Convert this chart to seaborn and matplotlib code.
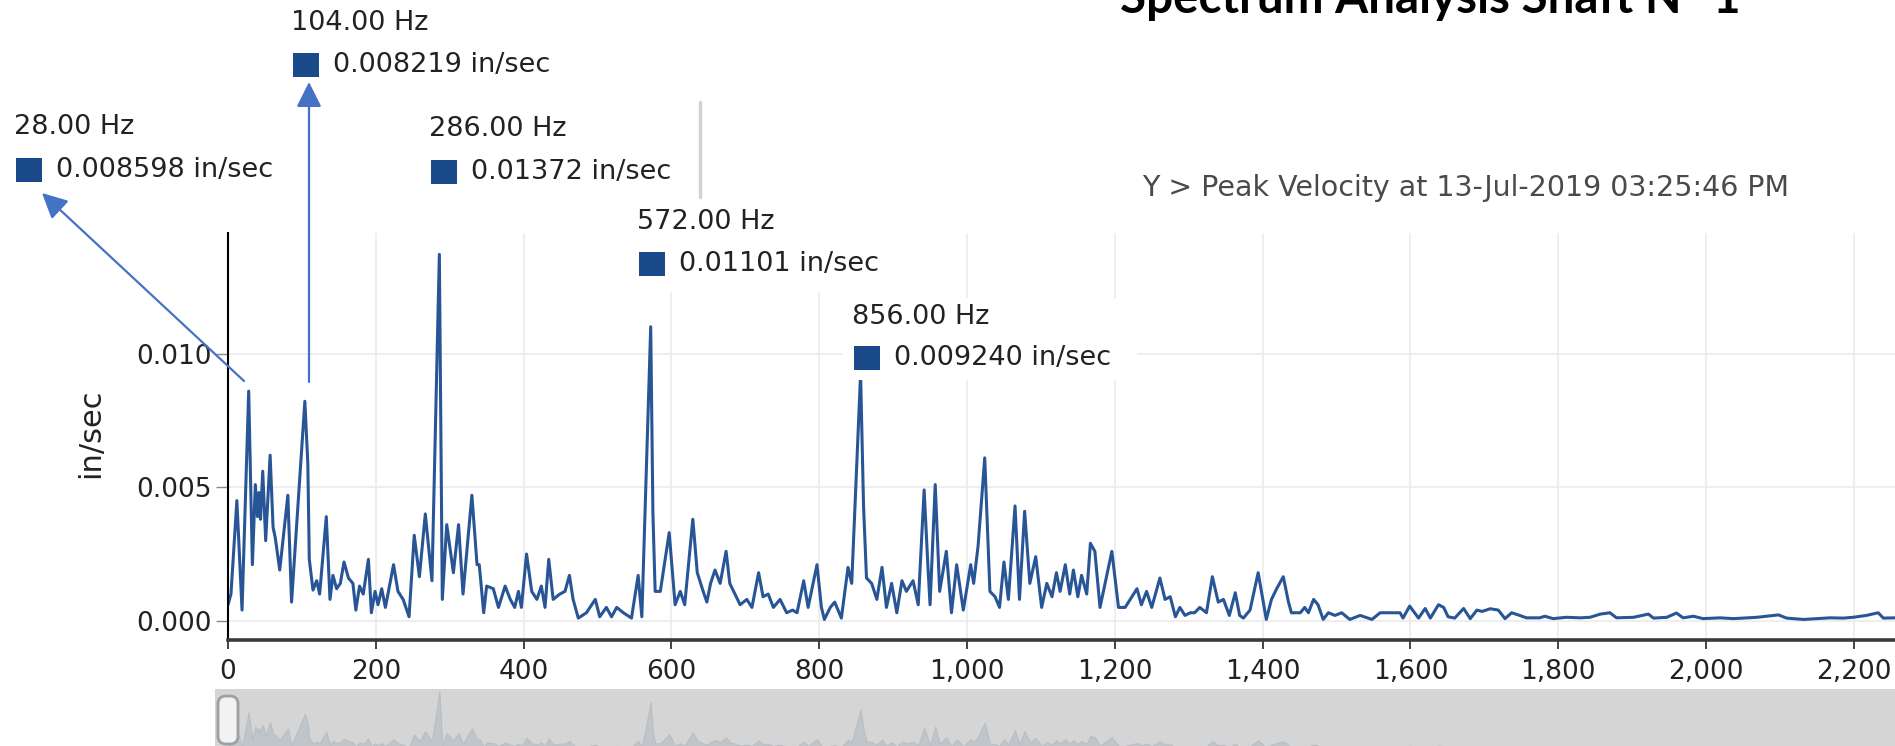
import matplotlib
matplotlib.use("Agg")
import numpy as np
import pandas as pd
import matplotlib.pyplot as plt
import seaborn as sns
from matplotlib.patches import Rectangle, FancyBboxPatch, FancyArrowPatch
from matplotlib.lines import Line2D
from matplotlib.transforms import IdentityTransform

# ---------------- data ----------------
freq_hz = [0, 4, 12, 19, 28, 33, 37, 40, 42, 44, 47, 51, 57, 61, 64, 70, 81, 86,
           104, 108, 110, 115, 120, 124, 133, 138, 142, 147, 152, 157, 163, 169, 173, 178, 183, 190, 194, 199,
           203, 208, 213, 224, 230, 237, 245, 252, 259, 267, 276, 286, 290, 296, 305, 312, 318, 330, 337, 340,
           346, 350, 359, 366, 375, 382, 388, 393, 397, 404, 411, 418, 424, 429, 434, 440, 449, 456, 462, 467,
           474, 485, 497, 503, 512, 519, 526, 535, 546, 555, 560, 572, 575, 578, 585, 597, 605, 612, 618, 629,
           635, 643, 648, 653, 659, 666, 674, 679, 686, 693, 702, 709, 718, 724, 731, 738, 747, 756, 764, 770,
           779, 785, 797, 803, 807, 815, 821, 830, 839, 844, 856, 860, 864, 871, 878, 885, 891, 898, 905, 912,
           918, 927, 934, 942, 947, 950, 957, 963, 972, 979, 986, 995, 1005, 1009, 1015, 1024, 1031, 1038, 1044,
           1050, 1056, 1065, 1071, 1078, 1085, 1093, 1101, 1108, 1115, 1121, 1126, 1133, 1139, 1144, 1150, 1155,
           1162, 1167, 1173, 1180, 1196, 1205, 1214, 1230, 1236, 1243, 1250, 1261, 1268, 1275, 1282, 1288, 1295,
           1302, 1308, 1315, 1324, 1332, 1340, 1347, 1355, 1363, 1369, 1374, 1383, 1394, 1399, 1405, 1412, 1419,
           1428, 1435, 1439, 1451, 1457, 1462, 1469, 1475, 1482, 1489, 1498, 1507, 1518, 1532, 1548, 1559, 1572,
           1586, 1590, 1599, 1611, 1620, 1627, 1638, 1645, 1651, 1660, 1672, 1681, 1690, 1697, 1708, 1719, 1728,
           1737, 1748, 1757, 1775, 1782, 1793, 1811, 1830, 1843, 1857, 1870, 1879, 1902, 1922, 1929, 1947, 1960,
           1969, 1983, 1996, 2019, 2037, 2055, 2069, 2082, 2098, 2109, 2132, 2150, 2168, 2186, 2199, 2217, 2233,
           2240, 2256]

velocity = [0.0006, 0.0010, 0.0045, 0.0004, 0.008598, 0.0021, 0.0051, 0.0039, 0.0048, 0.0038, 0.0056, 0.0030,
            0.0062, 0.0035, 0.0031, 0.0019, 0.0047, 0.0007,
            0.008219, 0.0059, 0.0023, 0.00115, 0.0015, 0.0010, 0.0039, 0.0008, 0.0017, 0.0012, 0.0014, 0.0022,
            0.0016, 0.0014, 0.0004, 0.0013, 0.0010, 0.0023, 0.0003, 0.0011,
            0.0006, 0.0012, 0.0005, 0.0021, 0.0011, 0.0008, 0.00015, 0.0032, 0.00165, 0.0040, 0.0015, 0.01372,
            0.0008, 0.0036, 0.0018, 0.0036, 0.0010, 0.0047, 0.0021, 0.0021,
            0.0003, 0.0013, 0.0012, 0.0005, 0.0013, 0.0008, 0.0005, 0.0011, 0.0005, 0.0025, 0.0011, 0.0008,
            0.0013, 0.0005, 0.0023, 0.0008, 0.0010, 0.0011, 0.0017, 0.0008,
            0.0001, 0.0003, 0.0008, 0.00015, 0.0005, 0.00015, 0.0005, 0.0003, 0.0001, 0.0017, 0.00015, 0.01101,
            0.0040, 0.0011, 0.0011, 0.0033, 0.0006, 0.0011, 0.0006, 0.0038,
            0.0018, 0.0011, 0.0007, 0.0014, 0.0019, 0.0014, 0.0026, 0.0014, 0.0010, 0.0006, 0.0008, 0.0005,
            0.0018, 0.0009, 0.0010, 0.0005, 0.0008, 0.0003, 0.0004, 0.0003,
            0.0015, 0.0005, 0.0021, 0.0005, 0.00005, 0.0005, 0.0007, 0.0001, 0.0020, 0.0014, 0.009240, 0.0043,
            0.0016, 0.0014, 0.0008, 0.0020, 0.0005, 0.0014, 0.0003, 0.0015,
            0.0011, 0.0015, 0.0006, 0.0049, 0.0021, 0.0006, 0.0051, 0.0011, 0.0026, 0.0003, 0.0021, 0.0004,
            0.0021, 0.0014, 0.0028, 0.0061, 0.0011, 0.0009, 0.0005,
            0.0022, 0.0008, 0.0043, 0.0008, 0.0041, 0.0014, 0.0024, 0.0005, 0.0014, 0.0009, 0.0018, 0.0011,
            0.0021, 0.0010, 0.0019, 0.0009, 0.0017,
            0.0010, 0.0029, 0.0026, 0.0005, 0.0026, 0.0005, 0.0005, 0.0012, 0.0006, 0.0011, 0.0005, 0.0016,
            0.0008, 0.0009, 0.00015, 0.0005, 0.0002,
            0.0003, 0.0003, 0.0005, 0.0003, 0.00165, 0.0007, 0.0008, 0.0002, 0.00105, 0.0002, 0.0001, 0.0004,
            0.0018, 0.0010, 0.00005, 0.0008, 0.0012,
            0.00165, 0.0007, 0.0003, 0.0003, 0.0005, 0.0003, 0.0008, 0.0006, 0.00005, 0.0003, 0.0002, 0.0003,
            0.00005, 0.0002, 0.00005, 0.0003, 0.0003,
            0.0003, 0.0001, 0.00055, 0.0001, 0.00046, 0.0001, 0.0006, 0.0005, 0.00015, 0.0001, 0.00046, 0.00008,
            0.0004, 0.00035, 0.00045, 0.0004, 0.00008,
            0.0003, 0.0002, 0.00011, 0.00011, 0.00017, 0.00008, 0.00013, 0.00011, 0.00013, 0.00025, 0.0003,
            0.00011, 0.00013, 0.00025, 0.0001, 0.00013, 0.00029,
            0.00011, 0.00017, 0.00008, 0.00011, 0.00008, 0.00011, 0.00013, 0.00017, 0.00022, 0.0001, 0.00005,
            0.00008, 0.00011, 0.0001, 0.00013, 0.0002, 0.0003,
            0.0001, 0.00011]

peak_freq_hz = [28, 104, 286, 572, 856]
peak_velocity = [0.008598, 0.008219, 0.01372, 0.01101, 0.009240]
x_tick_values = [0, 200, 400, 600, 800, 1000, 1200, 1400, 1600, 1800, 2000, 2200]
y_tick_values = [0.000, 0.005, 0.010]
title_text = "Spectrum Analysis Shaft N° 1"
subtitle_text = "Y > Peak Velocity at 13-Jul-2019 03:25:46 PM"
y_axis_label = "in/sec"

assert len(freq_hz) == len(velocity), (len(freq_hz), len(velocity))

# ---------------- styling ----------------
sns.set_theme(style="whitegrid")
plt.rcParams["font.family"] = ["DejaVu Sans"]

W, H = 1895, 746
fig = plt.figure(figsize=(W / 100, H / 100), dpi=100)
fig.patch.set_facecolor("white")
PX = IdentityTransform()


def Y(y):
    return H - y


LINE_COLOR = "#285595"
SQ_COLOR = "#1b4a8a"
ARROW_COLOR = "#4472C4"

X0, PX_PER_HZ = 228, 0.739
AX_TOP, AX_BOT = 233, 640
ax = fig.add_axes([X0 / W, 1 - AX_BOT / H, (W - X0) / W, (AX_BOT - AX_TOP) / H])
df = pd.DataFrame({"Frequency (Hz)": freq_hz, "Velocity (in/sec)": velocity})
sns.lineplot(data=df, x="Frequency (Hz)", y="Velocity (in/sec)", ax=ax,
             color=LINE_COLOR, linewidth=2.2, estimator=None, sort=True,
             solid_joinstyle="round")
ax.set_xlim(0, (W - X0) / PX_PER_HZ)
ax.set_ylim(-0.00072, 0.01452)
ax.set_xlabel("")
ax.set_ylabel("")
ax.set_facecolor("white")
ax.grid(True, color="#ebebeb", linewidth=1.2)
ax.set_xticks(x_tick_values)
ax.set_xticklabels([f"{v:,}" for v in x_tick_values])
ax.set_yticks(y_tick_values)
ax.set_yticklabels([f"{v:.3f}" for v in y_tick_values])
ax.tick_params(axis="x", bottom=True, length=6.5, width=1.4, color="#444444",
               pad=7, labelsize=19, labelcolor="#222222")
ax.tick_params(axis="y", left=True, length=8.5, width=1.0, color="#888888",
               pad=3.5, labelsize=19, labelcolor="#222222")
for s in ["top", "right"]:
    ax.spines[s].set_visible(False)
ax.spines["left"].set_color("#000000")
ax.spines["left"].set_linewidth(1.5)
ax.spines["bottom"].set_color("#3a3a3a")
ax.spines["bottom"].set_linewidth(2.6)

fig.text(91, Y(433), y_axis_label, transform=PX, rotation=90, ha="center", va="center",
         fontsize=22, color="#222222")

# ---------------- navigator strip ----------------
NAV_LEFT, NAV_TOP = 215, 689
nav = fig.add_axes([NAV_LEFT / W, 0, (W - NAV_LEFT) / W, (H - NAV_TOP) / H])
nav.set_facecolor("#d5d5d5")
nav.fill_between(freq_hz, 0, velocity, color="#c0c5ca", linewidth=0.8, edgecolor="#b8bec4")
nav.set_xlim((NAV_LEFT - X0) / PX_PER_HZ, (W - X0) / PX_PER_HZ)
nav.set_ylim(0.00048, 0.01421)
nav.set_xticks([])
nav.set_yticks([])
nav.grid(False)
for s in nav.spines.values():
    s.set_visible(False)
handle = FancyBboxPatch((218, Y(744)), 20, 48, boxstyle="round,pad=0,rounding_size=8",
                        transform=PX, facecolor="#f2f2f2", edgecolor="#a0a0a0", linewidth=2, zorder=10)
fig.add_artist(handle)

# ---------------- peak annotations ----------------
ann_layout = [  # text_x, hz_y, row_y, white box (x0, y0, x1, y1)
    (14, 127, 170, (5, 100, 290, 196)),
    (291, 23, 65, (283, 0, 565, 90)),
    (429, 129, 172, (420, 102, 700, 197)),
    (637, 222, 264, (628, 205, 900, 292)),
    (852, 317, 358, (842, 298, 1137, 380)),
]
for f, v, (tx, hy, ry, box) in zip(peak_freq_hz, peak_velocity, ann_layout):
    bx0, by0, bx1, by1 = box
    fig.add_artist(Rectangle((bx0, Y(by1)), bx1 - bx0, by1 - by0, transform=PX,
                             facecolor="white", edgecolor="none", zorder=5))
    fig.text(tx, Y(hy), f"{f:.2f} Hz", transform=PX, ha="left", va="center",
             fontsize=19.5, color="#222222", zorder=6)
    fig.add_artist(Rectangle((tx + 2, Y(ry + 12)), 26, 24, transform=PX,
                             facecolor=SQ_COLOR, edgecolor="none", zorder=6))
    fig.text(tx + 42, Y(ry), f"{v:#.4g} in/sec", transform=PX, ha="left", va="center",
             fontsize=19.5, color="#222222", zorder=6)

# faint edge of the 286 Hz tooltip
fig.add_artist(Line2D([700, 700], [Y(102), Y(197)], transform=PX, color="#d2d2d2", linewidth=2.5, zorder=6))

# arrows
for (xa, ya), (xb, yb) in [((244, 381), (42, 193)), ((309, 382), (309, 82))]:
    fig.add_artist(FancyArrowPatch((xa, Y(ya)), (xb, Y(yb)), transform=PX,
                                   arrowstyle="-|>,head_length=0.7,head_width=0.35",
                                   mutation_scale=22, color=ARROW_COLOR, linewidth=1.6,
                                   shrinkA=0, shrinkB=0, zorder=9))

# ---------------- title & subtitle ----------------
title = fig.text(1430, Y(13), title_text, transform=PX, ha="center", va="baseline",
                 fontsize=30, fontweight="bold", family=["Lato", "DejaVu Sans"], color="#000000")
subtitle = fig.text(1142, Y(188), subtitle_text, transform=PX, ha="left", va="center",
                    fontsize=18, color="#4a4a4a")

fig.canvas.draw()
r = fig.canvas.get_renderer()
for t, target in [(title, 621), (subtitle, 650)]:
    w = t.get_window_extent(r).width
    t.set_fontsize(t.get_fontsize() * target / w)

fig.savefig("out.png", dpi=100, facecolor="white")
